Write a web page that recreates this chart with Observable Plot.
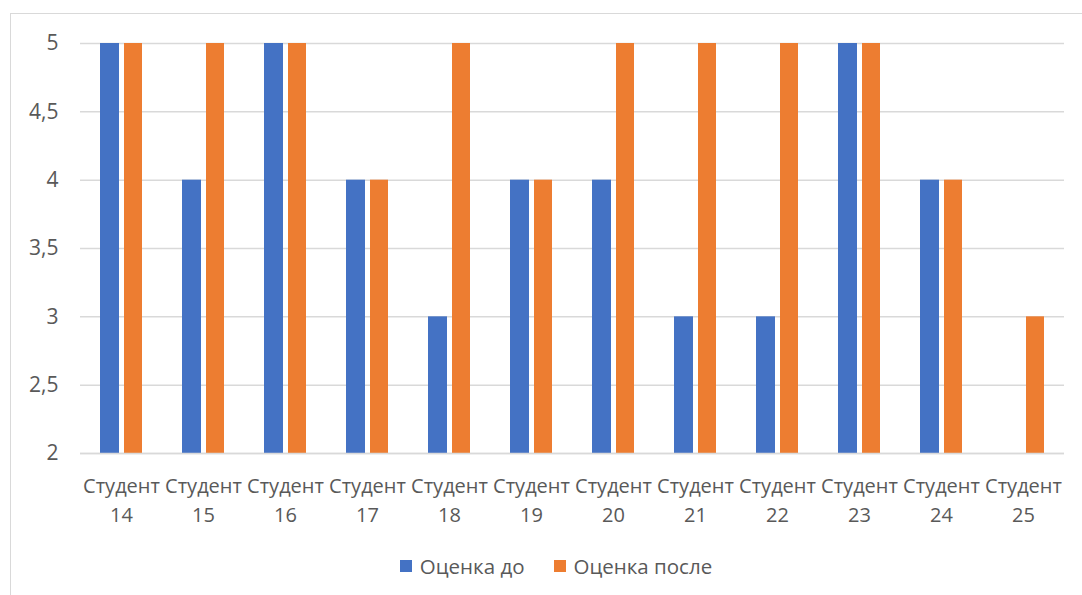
<!DOCTYPE html>
<html>
<head>
<meta charset="utf-8">
<script src="https://cdn.jsdelivr.net/npm/d3@7"></script>
<script src="https://cdn.jsdelivr.net/npm/@observablehq/plot@0.6"></script>
<style>
  html, body { margin: 0; padding: 0; background: #fff; width: 1082px; height: 595px; overflow: hidden; }
  #frame { position: absolute; left: 10px; top: 13px; width: 1100px; height: 620px; border: 1.5px solid #d9d9d9; box-sizing: border-box; }
  #chart { position: absolute; left: 0; top: 0; }
  #legend { position: absolute; top: 552px; left: 15px; width: 1082px; display: flex; justify-content: center; gap: 29px;
            font-family: "Open Sans", sans-serif; font-size: 20.5px; color: #595959; line-height: 28px; }
  .item { display: flex; align-items: center; gap: 8px; }
  .sw { width: 12px; height: 12px; display: inline-block; }
</style>
</head>
<body>
<div id="frame"></div>
<div id="chart"></div>
<div id="legend"></div>
<script>
const students = ["Студент 14","Студент 15","Студент 16","Студент 17","Студент 18","Студент 19","Студент 20","Студент 21","Студент 22","Студент 23","Студент 24","Студент 25"];
const before = [5, 4, 5, 4, 3, 4, 4, 3, 3, 5, 4, 2];
const after  = [5, 5, 5, 4, 5, 4, 5, 5, 5, 5, 4, 3];
const seriesNames = ["Оценка до", "Оценка после"];
const colors = ["#4472C4", "#ED7D31"];
const yTicks = [2, 2.5, 3, 3.5, 4, 4.5, 5];

const dataBefore = students.map((s, i) => ({student: s, value: before[i]}));
const dataAfter = students.map((s, i) => ({student: s, value: after[i]}));

const font = '"Open Sans", sans-serif';
const plot = Plot.plot({
  width: 1082,
  height: 540,
  marginLeft: 80,
  marginRight: 18,
  marginTop: 43,
  marginBottom: 87,
  style: { fontFamily: font, fontSize: "20px", color: "#595959", background: "transparent" },
  x: { domain: students, padding: 0, axis: null },
  y: { domain: [2, 5], axis: null },
  marks: [
    Plot.gridY(yTicks, { stroke: "#d9d9d9", strokeOpacity: 1, strokeWidth: 1.5 }),
    Plot.text(yTicks, { y: d => d, text: d => String(d).replace(".", ","), frameAnchor: "left", textAnchor: "end", dx: -22, fontSize: 21, fill: "#595959" }),
    Plot.barY(dataBefore, { x: "student", y1: 2, y2: "value", fill: colors[0], insetLeft: 20, insetRight: 43 }),
    Plot.barY(dataAfter, { x: "student", y1: 2, y2: "value", fill: colors[1], insetLeft: 44, insetRight: 20 }),
    Plot.ruleY([2], { stroke: "#d9d9d9", strokeWidth: 1.5 }),
    Plot.text(students, { x: d => d, text: d => d.replace(" ", "\n"), frameAnchor: "bottom", lineAnchor: "top", dy: 19, lineHeight: 1.45, fontSize: 20, fill: "#595959" })
  ]
});
document.getElementById("chart").appendChild(plot);

const legend = document.getElementById("legend");
seriesNames.forEach((n, i) => {
  const it = document.createElement("div");
  it.className = "item";
  const sw = document.createElement("span");
  sw.className = "sw";
  sw.style.background = colors[i];
  const t = document.createElement("span");
  t.textContent = n;
  it.appendChild(sw); it.appendChild(t);
  legend.appendChild(it);
});
</script>
</body>
</html>
